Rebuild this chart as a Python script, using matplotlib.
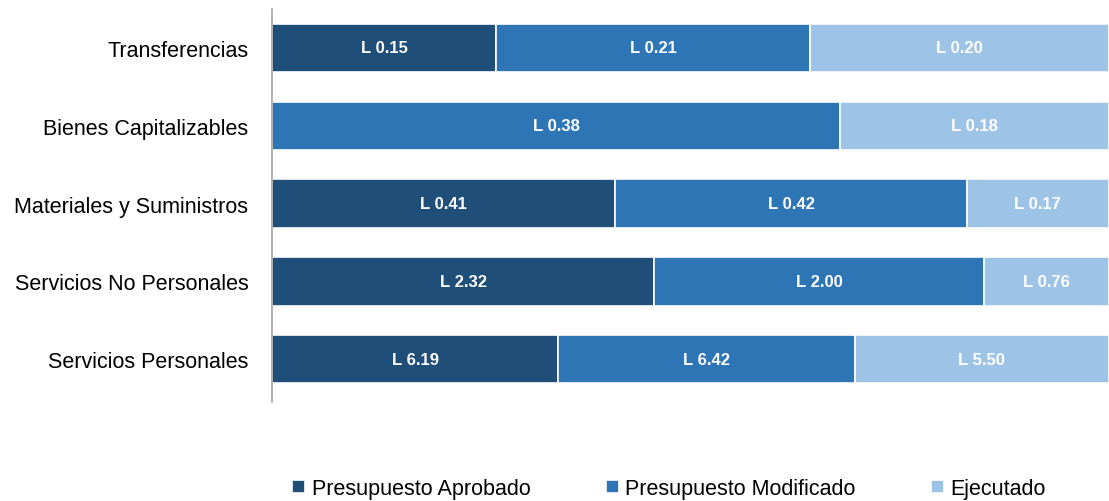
import matplotlib; matplotlib.use("Agg"); import matplotlib.pyplot as plt
import numpy as np

categories = ["Servicios Personales", "Servicios No Personales", "Materiales y Suministros",
              "Bienes Capitalizables", "Transferencias"]
aprobado = [6.19, 2.32, 0.41, 0.0, 0.15]
modificado = [6.42, 2.00, 0.42, 0.38, 0.21]
ejecutado = [5.50, 0.76, 0.17, 0.18, 0.20]
series = ["Presupuesto Aprobado", "Presupuesto Modificado", "Ejecutado"]
COLORS = ["#1F4E79", "#2E75B6", "#9DC3E6"]

plt.rcParams["font.family"] = ["Liberation Sans Narrow", "Liberation Sans", "DejaVu Sans"]

fig = plt.figure(figsize=(11.09, 5.02), dpi=100)
ax = fig.add_axes([0.2453, 0.197, 0.7547, 0.783])

vals = np.array([aprobado, modificado, ejecutado])
shares = vals / vals.sum(axis=0)
y = np.arange(len(categories))
left = np.zeros(len(categories))
for i, name in enumerate(series):
    ax.barh(y, shares[i], left=left, height=0.62, color=COLORS[i],
            edgecolor="white", linewidth=1.2, label=name)
    for j in range(len(categories)):
        if vals[i, j] > 0:
            ax.text(left[j] + shares[i, j] / 2, y[j], f"L {vals[i, j]:.2f}",
                    ha="center", va="center", color="white", fontsize=12, fontweight="bold")
    left += shares[i]

ax.set_xlim(0, 1)
ax.set_ylim(-0.55, 4.5)
ax.set_yticks(y)
ax.set_yticklabels(categories, fontsize=15.5)
ax.tick_params(axis="y", length=0, pad=17)
ax.set_xticks([])
for s in ["top", "right", "bottom"]:
    ax.spines[s].set_visible(False)
ax.spines["left"].set_color("#a6a6a6")
ax.spines["left"].set_linewidth(1.2)

fig.legend(loc="lower left", bbox_to_anchor=(0.246, -0.035), ncol=3, frameon=False,
           fontsize=15.5, handlelength=0.6, handleheight=0.6, handletextpad=0.3,
           columnspacing=3.5)

fig.savefig("out.png", dpi=100, facecolor="white")
